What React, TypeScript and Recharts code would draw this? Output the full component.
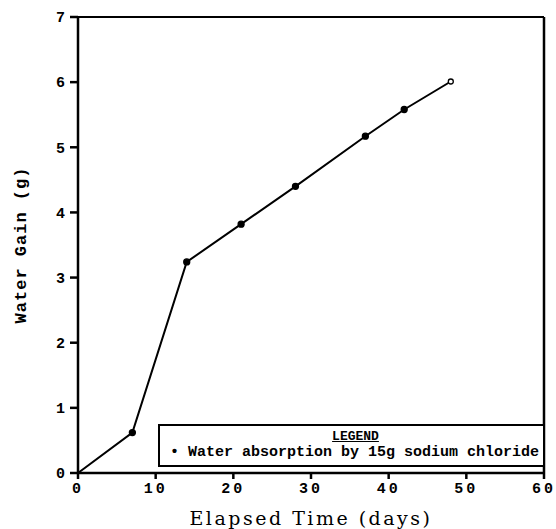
import { LineChart, Line, XAxis, YAxis, ReferenceLine } from "recharts";

const days = [0, 7, 14, 21, 28, 37, 42, 48];
const waterGain = [0, 0.62, 3.24, 3.82, 4.4, 5.17, 5.58, 6.01];
const xTicks = [0, 10, 20, 30, 40, 50, 60];
const yTicks = [0, 1, 2, 3, 4, 5, 6, 7];
const legendTitle = "LEGEND";
const legendEntry = "Water absorption by 15g sodium chloride";

const data = days.map((d, i) => ({ day: d, gain: waterGain[i] }));

const mono = "'Liberation Mono', 'DejaVu Sans Mono', monospace";

function Dot(props: any) {
  const { cx, cy, index } = props;
  if (index === 0) return <g key={index} />;
  const last = index === data.length - 1;
  return (
    <circle
      key={index}
      cx={cx}
      cy={cy}
      r={last ? 2.5 : 3}
      fill={last ? "#fff" : "#000"}
      stroke="#000"
      strokeWidth={1.3}
    />
  );
}

export default function App() {
  return (
    <div style={{ position: "absolute", left: 0, top: 0, width: 556, height: 529, background: "#fff" }}>
      <LineChart
        width={556}
        height={529}
        data={data}
        margin={{ top: 17, right: 12, left: 0, bottom: 0 }}
      >
        <XAxis
          dataKey="day"
          type="number"
          domain={[0, 60]}
          ticks={xTicks}
          height={56}
          stroke="#000"
          strokeWidth={2.5}
          tickSize={6}
          tickMargin={3}
          tick={{ fontSize: 15, fontFamily: mono, fontWeight: "bold", fill: "#000", letterSpacing: 3 }}
          label={{
            value: "Elapsed Time (days)",
            position: "insideBottom",
            offset: 4,
            style: { fontSize: 19, fontFamily: "'DejaVu Serif', serif", fill: "#000", letterSpacing: 2.5 },
          }}
        />
        <YAxis
          dataKey="gain"
          type="number"
          domain={[0, 7]}
          ticks={yTicks}
          width={78}
          stroke="#000"
          strokeWidth={2.5}
          tickSize={8}
          tickMargin={5}
          tick={{ fontSize: 15, fontFamily: mono, fontWeight: "bold", fill: "#000" }}
          label={{
            value: "Water Gain (g)",
            angle: -90,
            position: "insideLeft",
            offset: 20,
            style: {
              fontSize: 17,
              fontFamily: mono,
              fontWeight: "bold",
              fill: "#000",
              textAnchor: "middle",
              letterSpacing: 1,
            },
          }}
        />
        <ReferenceLine y={7} stroke="#000" strokeWidth={2} />
        <ReferenceLine x={60} stroke="#000" strokeWidth={2.5} />
        <Line
          type="linear"
          dataKey="gain"
          stroke="#000"
          strokeWidth={2}
          dot={<Dot />}
          isAnimationActive={false}
        />
      </LineChart>
      {/* legend box, sits inside the plot area */}
      <div
        style={{
          position: "absolute",
          left: 158,
          top: 424,
          width: 383,
          height: 39,
          border: "2px solid #000",
          background: "#fff",
          fontFamily: mono,
          fontWeight: "bold",
          color: "#000",
        }}
      >
        <div
          style={{
            textAlign: "center",
            fontSize: 13,
            textDecoration: "underline",
            marginTop: 3,
            paddingLeft: 8,
            lineHeight: "15px",
          }}
        >
          {legendTitle}
        </div>
        <div style={{ fontSize: 15, marginLeft: 10, lineHeight: "18px", whiteSpace: "nowrap" }}>
          • {legendEntry}
        </div>
      </div>
    </div>
  );
}
